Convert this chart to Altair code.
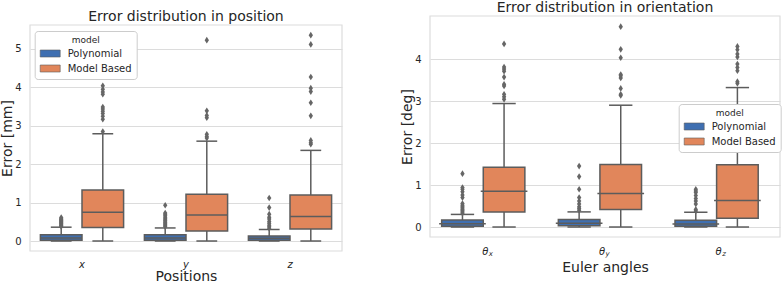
import altair as alt
import pandas as pd

FONT = "DejaVu Sans"
TXT = "#262626"
GRID = "#dcdcdc"
EDGE = "#5c5c5c"
BLUE = "#3f6fb1"
ORANGE = "#e1865b"

models = ["Polynomial", "Model Based"]

# ---------------- Position panel ----------------
pos_categories = ["x", "y", "z"]
pos_cat = ["x", "x", "y", "y", "z", "z"]
pos_model = ["Polynomial", "Model Based"] * 3
pos_q1 = [0.02, 0.35, 0.02, 0.26, 0.02, 0.31]
pos_med = [0.08, 0.75, 0.08, 0.68, 0.07, 0.64]
pos_q3 = [0.16, 1.33, 0.16, 1.22, 0.13, 1.20]
pos_lo = [0.0, 0.0, 0.0, 0.0, 0.0, 0.0]
pos_hi = [0.36, 2.79, 0.34, 2.60, 0.30, 2.36]
pos_outliers = [
    [0.38, 0.40, 0.42, 0.44, 0.46, 0.48, 0.50, 0.52, 0.54, 0.56, 0.58, 0.61],
    [2.85, 3.17, 3.25, 3.32, 3.38, 3.44, 3.49, 3.82, 3.88, 3.95, 4.04],
    [0.37, 0.40, 0.43, 0.46, 0.49, 0.52, 0.55, 0.58, 0.62, 0.66, 0.70, 0.73, 0.93],
    [2.68, 2.72, 2.78, 3.21, 3.27, 3.39, 5.23],
    [0.33, 0.37, 0.41, 0.46, 0.51, 0.57, 0.62, 0.70, 0.87, 1.12],
    [2.52, 2.56, 2.62, 3.26, 3.60, 3.89, 3.98, 4.27, 5.12, 5.36],
]

# ---------------- Orientation panel ----------------
ori_categories = ["θx", "θy", "θz"]
ori_base = ["θ", "θ", "θ"]
ori_sub = ["x", "y", "z"]
ori_cat = ["θx", "θx", "θy", "θy", "θz", "θz"]
ori_model = ["Polynomial", "Model Based"] * 3
ori_q1 = [0.02, 0.36, 0.03, 0.42, 0.02, 0.21]
ori_med = [0.08, 0.85, 0.09, 0.80, 0.07, 0.63]
ori_q3 = [0.17, 1.42, 0.18, 1.49, 0.16, 1.48]
ori_lo = [0.0, 0.0, 0.0, 0.0, 0.0, 0.0]
ori_hi = [0.30, 2.94, 0.36, 2.90, 0.35, 3.32]
ori_outliers = [
    [0.33, 0.36, 0.39, 0.42, 0.45, 0.48, 0.52, 0.56, 0.70, 0.76, 0.84, 0.90, 0.94, 1.27],
    [3.04, 3.10, 3.16, 3.36, 3.40, 3.57, 3.71, 3.76, 3.81, 4.36],
    [0.40, 0.44, 0.48, 0.55, 0.62, 0.70, 0.90, 1.20, 1.45],
    [3.13, 3.16, 3.30, 3.55, 3.60, 3.63, 4.03, 4.23, 4.77],
    [0.38, 0.42, 0.55, 0.62, 0.68, 0.75, 0.82, 0.86, 0.90],
    [3.42, 3.46, 3.72, 3.80, 3.88, 4.05, 4.12, 4.22, 4.30],
]

DIAMOND = "M0,-1L0.65,0L0,1L-0.65,0Z"
LEG_SYM = "M-1,-0.7H3V0.7H-1Z"
H = 235


def build(cats, cat, model, q1, med, q3, lo, hi, outl, width, ydom, frame,
          tick_vals, ytitle, ytitle_y, xtitle, xtitle_y, title, title_y,
          legend_xy, sub=None, base=None):
    box = pd.DataFrame({"cat": cat, "model": model, "q1": q1, "med": med,
                        "q3": q3, "lo": lo, "hi": hi})
    rows = []
    for c, m, vals in zip(cat, model, outl):
        for v in vals:
            rows.append({"cat": c, "model": m, "v": v})
    out = pd.DataFrame(rows)

    step = width / 3.0
    boxw = step * 0.8 / 2
    capw = boxw / 2

    ys = alt.Scale(domain=ydom, nice=False, zero=False)
    ya = alt.Axis(values=tick_vals, title=ytitle, grid=True, gridColor=GRID,
                  gridWidth=1, domain=False, ticks=False, labelPadding=9,
                  labelFontSize=10, labelColor=TXT, labelFont=FONT,
                  titleFontSize=14, titleFontWeight="normal", titleColor=TXT,
                  titleFont=FONT, titleX=-23, titleY=ytitle_y,
                  titleAngle=270, titleAlign="center", titleBaseline="middle")
    xs = alt.Scale(domain=cats, paddingInner=0.2, paddingOuter=0.1)
    if sub is None:
        xa = alt.Axis(title=xtitle, domain=False, ticks=False, grid=False,
                      labelAngle=0, labelFontSize=10, labelFontStyle="italic",
                      labelColor=TXT, labelFont=FONT, labelPadding=8,
                      titleFontSize=14, titleFontWeight="normal",
                      titleColor=TXT, titleFont=FONT, titleX=width / 2,
                      titleY=xtitle_y, titleBaseline="alphabetic")
    else:
        xa = alt.Axis(title=xtitle, domain=False, ticks=False, grid=False,
                      labels=False, titleFontSize=14, titleFontWeight="normal",
                      titleColor=TXT, titleFont=FONT, titleX=width / 2,
                      titleY=xtitle_y, titleBaseline="alphabetic")
    xo = alt.Scale(domain=models, paddingInner=0, paddingOuter=0)
    cs = alt.Scale(domain=models, range=[BLUE, ORANGE])

    X = alt.X("cat:N", scale=xs, axis=xa, sort=cats)
    XO = alt.XOffset("model:N", scale=xo, sort=models)

    base_box = alt.Chart(box)

    frame_layer = alt.Chart(pd.DataFrame({"f": [frame[0]], "g": [frame[1]]})).mark_rect(
        fillOpacity=0, stroke=GRID, strokeWidth=1.2
    ).encode(
        x=alt.value(0), x2=alt.value(width),
        y=alt.Y("f:Q", scale=ys, axis=ya), y2="g:Q",
    )

    whisk = base_box.mark_rule(color=EDGE, strokeWidth=1.5).encode(
        x=X, xOffset=XO, y=alt.Y("lo:Q", scale=ys, axis=ya), y2="hi:Q")
    cap_hi = base_box.mark_tick(orient="horizontal", size=capw, thickness=1.5,
                                color=EDGE, opacity=1).encode(
        x=X, xOffset=XO, y=alt.Y("hi:Q", scale=ys, axis=ya))
    cap_lo = base_box.mark_tick(orient="horizontal", size=capw, thickness=1.5,
                                color=EDGE, opacity=1).encode(
        x=X, xOffset=XO, y=alt.Y("lo:Q", scale=ys, axis=ya))
    bars = base_box.mark_bar(stroke=EDGE, strokeWidth=1.5, opacity=1).encode(
        x=X, xOffset=XO, y=alt.Y("q1:Q", scale=ys, axis=ya), y2="q3:Q",
        color=alt.Color("model:N", scale=cs, sort=models, legend=alt.Legend(
            orient="none", legendX=legend_xy[0], legendY=legend_xy[1],
            title="model", titleFontSize=9, titleFontWeight="normal",
            titleColor=TXT, titleFont=FONT, titleAnchor="middle",
            titlePadding=3, labelFontSize=10, labelColor=TXT, labelFont=FONT,
            labelOffset=17, symbolType=LEG_SYM, symbolSize=100,
            symbolStrokeColor=EDGE, symbolStrokeWidth=0.6, symbolOpacity=1,
            symbolFillColor=BLUE, rowPadding=4, padding=5,
            strokeColor="#cccccc", fillColor="white", cornerRadius=3)))
    medians = base_box.mark_tick(orient="horizontal", size=boxw, thickness=1.5,
                                 color=EDGE, opacity=1).encode(
        x=X, xOffset=XO, y=alt.Y("med:Q", scale=ys, axis=ya))
    pts = alt.Chart(out).mark_point(shape=DIAMOND, filled=True, size=44,
                                    color="#666666", opacity=1).encode(
        x=X, xOffset=XO, y=alt.Y("v:Q", scale=ys, axis=ya))

    ttl = alt.Chart(pd.DataFrame({"t": [title]})).mark_text(
        fontSize=14, font=FONT, color=TXT, align="center",
        baseline="alphabetic").encode(
        x=alt.value(width / 2), y=alt.value(title_y), text="t:N")

    layers = [frame_layer, whisk, cap_hi, cap_lo, bars, medians, pts, ttl]

    if sub is not None:
        lab = pd.DataFrame({"cat": cats, "base": base, "sub": sub})
        t1 = alt.Chart(lab).mark_text(fontSize=10, fontStyle="italic", font=FONT,
                                      color=TXT, dx=-3, baseline="alphabetic",
                                      align="center").encode(
            x=X, y=alt.value(239.3), text="base:N")
        t2 = alt.Chart(lab).mark_text(fontSize=7, fontStyle="italic", font=FONT,
                                      color=TXT, dx=2.5, baseline="alphabetic",
                                      align="center").encode(
            x=X, y=alt.value(240.3), text="sub:N")
        layers += [t1, t2]

    return alt.layer(*layers).properties(width=width, height=H)


left = build(pos_categories, pos_cat, pos_model, pos_q1, pos_med, pos_q3,
             pos_lo, pos_hi, pos_outliers, 312, [-0.26, 5.859], [-0.26, 5.625],
             [0, 1, 2, 3, 4, 5], "Error [mm]", 122, "Positions", 29.5,
             "Error distribution in position", 4.5, (4.7, 15))

right = build(ori_categories, ori_cat, ori_model, ori_q1, ori_med, ori_q3,
              ori_lo, ori_hi, ori_outliers, 350, [-0.571, 5.024],
              [-0.238, 5.024], [0, 1, 2, 3, 4], "Error [deg]", 110.5,
              "Euler angles", 20.7, "Error distribution in orientation", -4.5,
              (248.7, 88), sub=ori_sub, base=ori_base)

chart = alt.hconcat(left, right, spacing=88, bounds="flush").resolve_legend(
    color="independent"
).configure(
    padding=0, background="white", font=FONT
).configure_view(stroke=None)

chart.save("out.html", embed_options={"renderer": "svg", "actions": False})
